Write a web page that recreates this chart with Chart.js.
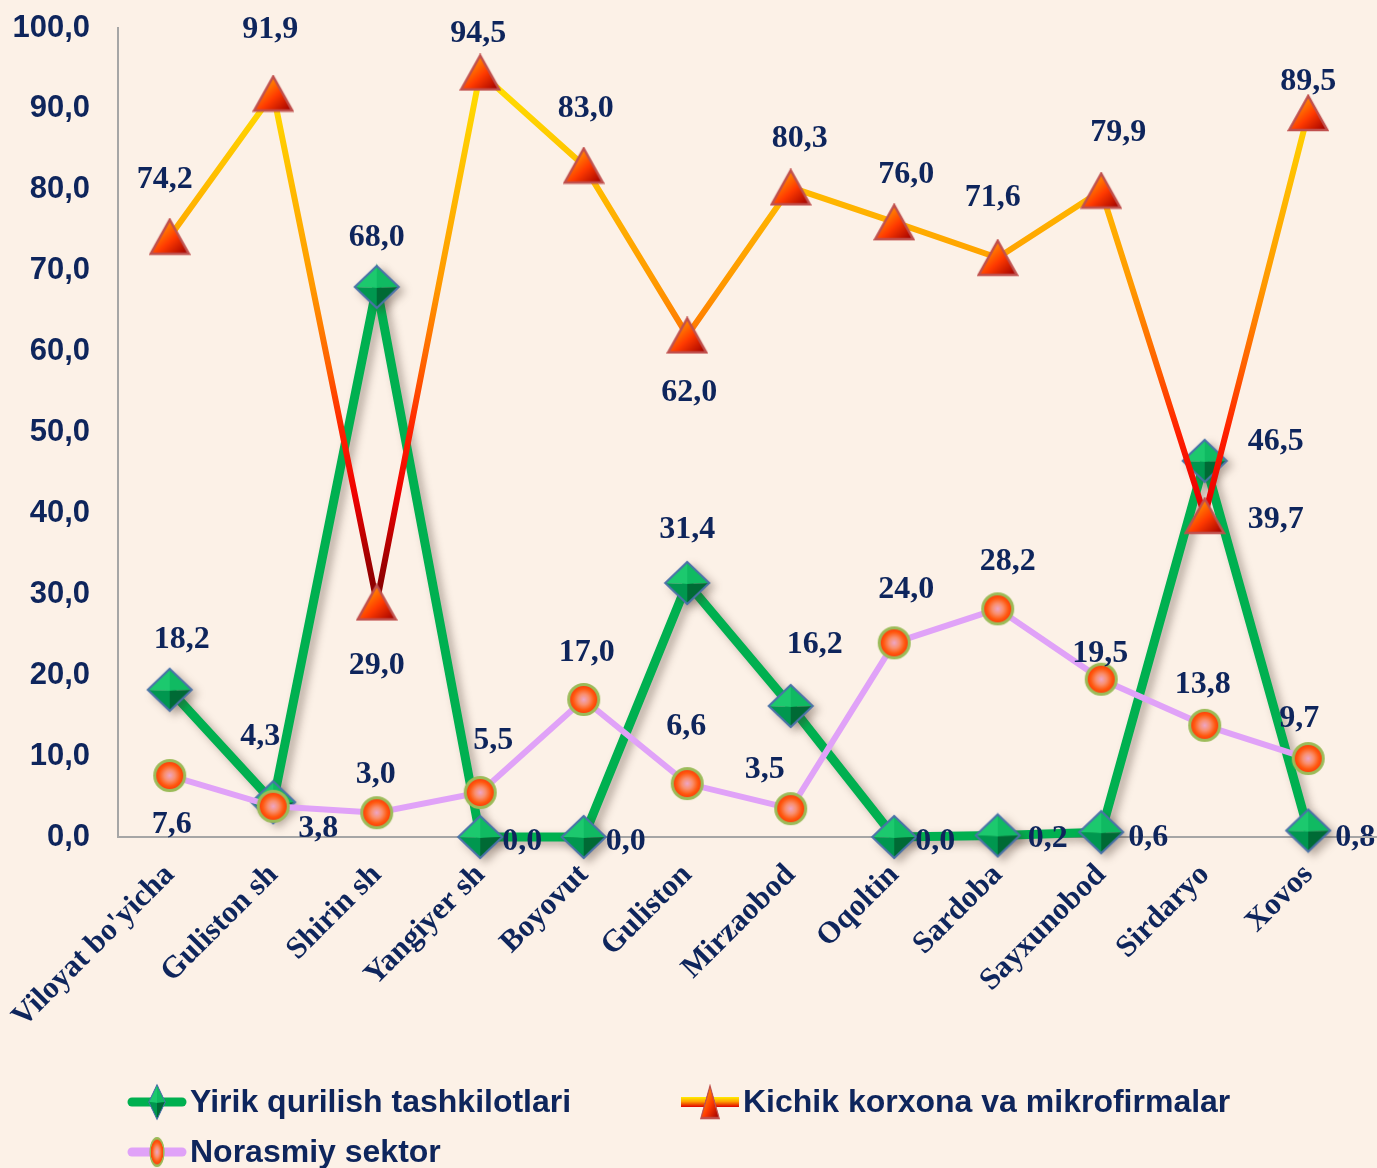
<!DOCTYPE html>
<html>
<head>
<meta charset="utf-8">
<script src="https://cdn.jsdelivr.net/npm/chart.js@4.4.1/dist/chart.umd.min.js"></script>
<style>
    html, body { margin: 0; padding: 0; background: #FCF1E7; overflow: hidden; }
    #wrap { width: 1377px; height: 1168px; position: relative; }
</style>
</head>
<body>
<div id="wrap"><canvas id="chart"></canvas></div>
<script>
// ---- data ----
const categories = ["Viloyat bo'yicha", 'Guliston sh', 'Shirin sh', 'Yangiyer sh', 'Boyovut', 'Guliston',
    'Mirzaobod', 'Oqoltin', 'Sardoba', 'Sayxunobod', 'Sirdaryo', 'Xovos'];
const seriesNames = ['Yirik qurilish tashkilotlari', 'Kichik korxona va mikrofirmalar', 'Norasmiy sektor'];
const yirik    = [18.2, 4.3, 68.0, 0.0, 0.0, 31.4, 16.2, 0.0, 0.2, 0.6, 46.5, 0.8];
const kichik   = [74.2, 91.9, 29.0, 94.5, 83.0, 62.0, 80.3, 76.0, 71.6, 79.9, 39.7, 89.5];
const norasmiy = [7.6, 3.8, 3.0, 5.5, 17.0, 6.6, 3.5, 24.0, 28.2, 19.5, 13.8, 9.7];
const yTicks = [0, 10, 20, 30, 40, 50, 60, 70, 80, 90, 100];

// label offsets from the point (dx, dy), placement only
const yirikLbl    = [[12,-50],[-13,-65],[0,-49],[42,5],[42,5],[0,-53],[24,-61],[41,5],[50,3],[47,6],[71,-19],[47,7]];
const kichikLbl   = [[-5,-57],[-3,-64],[0,63],[-2,-39],[2,-57],[2,57],[9,-49],[12,-47],[-5,-60],[17,-58],[71,4],[0,-31]];
const norasmiyLbl = [[2,49],[45,22],[-1,-38],[13,-52],[3,-47],[-1,-57],[-26,-39],[12,-53],[10,-47],[-1,-26],[-2,-41],[-9,-40]];

const NAVY = '#0E255C';
const BG = '#FCF1E7';
const fmt = v => v.toFixed(1).replace('.', ',');

// ---- marker pictures ----
function makeDiamond(w, h) {
    const c = document.createElement('canvas'); c.width = w; c.height = h;
    const g = c.getContext('2d');
    const m = 2, cx = w / 2, cy = h / 2;
    const T = [cx, m], R = [w - m, cy], B = [cx, h - m], L = [m, cy], C = [cx, cy + 1];
    const facet = (a, b, col) => {
        g.beginPath(); g.moveTo(a[0], a[1]); g.lineTo(b[0], b[1]); g.lineTo(C[0], C[1]); g.closePath();
        g.fillStyle = col; g.fill();
    };
    facet(L, T, '#1CC96E'); facet(T, R, '#10BA62'); facet(B, L, '#00974F'); facet(R, B, '#006A35');
    g.beginPath(); g.moveTo(T[0], T[1]); g.lineTo(R[0], R[1]); g.lineTo(B[0], B[1]); g.lineTo(L[0], L[1]); g.closePath();
    g.strokeStyle = '#4A72A8'; g.lineWidth = 2; g.stroke();
    return c;
}
function makeTriangle(w, h) {
    const c = document.createElement('canvas'); c.width = w; c.height = h;
    const g = c.getContext('2d');
    const m = 2;
    const grad = g.createLinearGradient(w * 0.2, h * 0.2, w * 0.85, h);
    grad.addColorStop(0, '#FFA000'); grad.addColorStop(0.5, '#FF3A00'); grad.addColorStop(1, '#A00000');
    g.beginPath(); g.moveTo(w / 2, m); g.lineTo(w - m, h - m); g.lineTo(m, h - m); g.closePath();
    g.fillStyle = grad; g.fill();
    g.strokeStyle = '#C0504D'; g.lineWidth = 2.5; g.lineJoin = 'miter'; g.stroke();
    return c;
}
function makeCircle(d) {
    const c = document.createElement('canvas'); c.width = d; c.height = d;
    const g = c.getContext('2d');
    const r = d / 2;
    const grad = g.createRadialGradient(r, r, 0, r, r, r);
    grad.addColorStop(0, '#EEA6C6'); grad.addColorStop(0.3, '#F99070'); grad.addColorStop(0.6, '#FF5A10'); grad.addColorStop(1, '#FF1A00');
    g.beginPath(); g.arc(r, r, r - 2.5, 0, Math.PI * 2);
    g.fillStyle = grad; g.fill();
    g.strokeStyle = '#9BBB59'; g.lineWidth = 3; g.stroke();
    return c;
}
const diamondImg = makeDiamond(48, 46);
const triangleImg = makeTriangle(42, 38);
const circleImg = makeCircle(35);

// vertical colour run of the small-firms line, by value
function kichikGradient(chart) {
    const y = chart.scales.y;
    const g = chart.ctx.createLinearGradient(0, y.getPixelForValue(100), 0, y.getPixelForValue(0));
    const stops = [[100, '#FFEE00'], [88, '#FFD000'], [78, '#FFB400'], [68, '#FF9800'], [58, '#FF6000'],
        [50, '#FF2000'], [42, '#EE0000'], [34, '#A00000'], [28, '#7A0000'], [0, '#7A0000']];
    stops.forEach(s => g.addColorStop(1 - s[0] / 100, s[1]));
    return g;
}

const lblPlugin = {
    id: 'valueLabels',
    afterDatasetsDraw(chart) {
        const ctx = chart.ctx;
        const offs = [yirikLbl, kichikLbl, norasmiyLbl];
        ctx.save();
        ctx.font = "bold 32px 'Liberation Serif'";
        ctx.fillStyle = NAVY;
        ctx.textAlign = 'center';
        ctx.textBaseline = 'middle';
        chart.data.datasets.forEach((ds, i) => {
            const meta = chart.getDatasetMeta(i);
            meta.data.forEach((pt, j) => {
                const o = offs[i][j];
                ctx.fillText(fmt(ds.data[j]), pt.x + o[0], pt.y + o[1]);
            });
        });
        ctx.restore();
    }
};

const bgPlugin = {
    id: 'bg',
    beforeDraw(chart) {
        const ctx = chart.ctx;
        ctx.save();
        ctx.fillStyle = BG;
        ctx.fillRect(0, 0, chart.width, chart.height);
        ctx.restore();
    },
    afterDraw(chart) {
        // axis line runs on past the last category
        const a = chart.chartArea, ctx = chart.ctx;
        ctx.save();
        ctx.strokeStyle = '#A6A6A6'; ctx.lineWidth = 2;
        ctx.beginPath(); ctx.moveTo(a.right, a.bottom); ctx.lineTo(chart.width, a.bottom); ctx.stroke();
        ctx.restore();
    }
};

const shadowPlugin = {
    id: 'shadow',
    beforeDatasetDraw(chart, args) {
        if (args.index !== 0) return;
        const ctx = chart.ctx;
        ctx.save();
        ctx.shadowColor = 'rgba(60,40,30,0.35)';
        ctx.shadowBlur = 8;
        ctx.shadowOffsetX = 5;
        ctx.shadowOffsetY = 4;
    },
    afterDatasetDraw(chart, args) {
        if (args.index !== 0) return;
        chart.ctx.restore();
    }
};

const legendPlugin = {
    id: 'ownLegend',
    afterDraw(chart) {
        const ctx = chart.ctx;
        const items = [
            { x: 128, y: 1102, text: seriesNames[0], kind: 0 },
            { x: 681, y: 1102, text: seriesNames[1], kind: 1 },
            { x: 128, y: 1152, text: seriesNames[2], kind: 2 }
        ];
        ctx.save();
        items.forEach(it => {
            const x0 = it.x, x1 = it.x + 58, mid = (x0 + x1) / 2, y = it.y;
            if (it.kind === 0) {
                ctx.strokeStyle = '#00B050'; ctx.lineWidth = 9; ctx.lineCap = 'round';
                ctx.beginPath(); ctx.moveTo(x0 + 4, y); ctx.lineTo(x1 - 4, y); ctx.stroke();
                ctx.drawImage(diamondImg, mid - 9, y - 19, 18, 38);
            } else if (it.kind === 1) {
                const g = ctx.createLinearGradient(0, y - 5, 0, y + 5);
                g.addColorStop(0, '#FFEE00'); g.addColorStop(0.45, '#FFA000'); g.addColorStop(1, '#E00000');
                ctx.fillStyle = g;
                ctx.fillRect(x0, y - 5, x1 - x0, 10);
                ctx.drawImage(triangleImg, mid - 10, y - 18, 20, 36);
            } else {
                ctx.strokeStyle = '#E0A2F8'; ctx.lineWidth = 9; ctx.lineCap = 'round';
                ctx.beginPath(); ctx.moveTo(x0 + 4, y); ctx.lineTo(x1 - 4, y); ctx.stroke();
                ctx.drawImage(circleImg, mid - 8, y - 16, 16, 32);
            }
            ctx.font = "bold 32px 'Liberation Sans'";
            ctx.fillStyle = NAVY;
            ctx.textAlign = 'left';
            ctx.textBaseline = 'middle';
            ctx.fillText(it.text, x1 + 4, y + 1);
        });
        ctx.restore();
    }
};

new Chart(document.getElementById('chart'), {
    type: 'line',
    data: {
        labels: categories,
        datasets: [
            { label: seriesNames[0], data: yirik, order: 3, borderColor: '#00B050', borderWidth: 9,
              pointStyle: diamondImg, pointRadius: 24, tension: 0, clip: false },
            { label: seriesNames[1], data: kichik, order: 2,
              borderColor: ctx => ctx.chart.chartArea ? kichikGradient(ctx.chart) : '#FFA000',
              borderWidth: 6, pointStyle: triangleImg, pointRadius: 21, tension: 0, clip: false },
            { label: seriesNames[2], data: norasmiy, order: 1, borderColor: '#E0A2F8', borderWidth: 6,
              pointStyle: circleImg, pointRadius: 18, tension: 0, clip: false }
        ]
    },
    options: {
        responsive: true,
        maintainAspectRatio: false,
        animation: false,
        layout: { autoPadding: false, padding: { top: 28, right: 17, left: 0, bottom: 0 } },
        plugins: { legend: { display: false }, tooltip: { enabled: false } },
        scales: {
            x: {
                offset: true,
                grid: { display: false },
                border: { display: true, color: '#A6A6A6', width: 2 },
                ticks: {
                    color: NAVY, minRotation: 45, maxRotation: 45, autoSkip: false, padding: 12,
                    font: { family: 'Liberation Serif', weight: 'bold', size: 31 }
                },
                afterFit: s => { s.height = 331; s.paddingLeft = 0; s.paddingRight = 0; }
            },
            y: {
                min: 0, max: 100,
                grid: { display: false },
                border: { display: true, color: '#A6A6A6', width: 2 },
                afterBuildTicks: s => { s.ticks = yTicks.map(v => ({ value: v })); },
                ticks: {
                    color: NAVY, padding: 20,
                    font: { family: 'Liberation Sans', weight: 'bold', size: 31 },
                    callback: v => fmt(v)
                },
                afterFit: s => { s.width = 118; s.paddingTop = 0; s.paddingBottom = 0; }
            }
        }
    },
    plugins: [bgPlugin, shadowPlugin, lblPlugin, legendPlugin]
});
</script>
</body>
</html>
